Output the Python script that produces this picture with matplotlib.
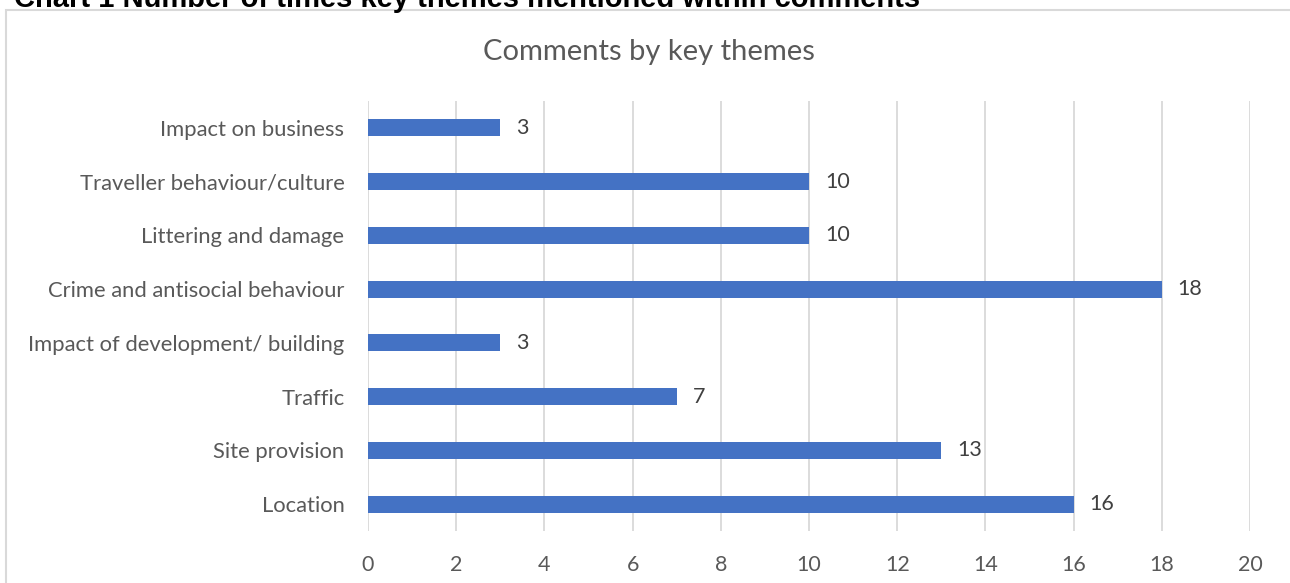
import matplotlib
matplotlib.use("Agg")
import matplotlib.pyplot as plt
from matplotlib.patches import Rectangle

categories = ["Location", "Site provision", "Traffic", "Impact of development/ building",
              "Crime and antisocial behaviour", "Littering and damage",
              "Traveller behaviour/culture", "Impact on business"]
values = [16, 13, 7, 3, 18, 10, 10, 3]
xticks = [0, 2, 4, 6, 8, 10, 12, 14, 16, 18, 20]

W, H = 1290, 583
fig = plt.figure(figsize=(W / 100, H / 100), dpi=100)
fig.patch.set_facecolor("white")

# outer chart border
fig.add_artist(Rectangle((6 / W, -0.01), 1.0, 1 - 10 / H + 0.01, transform=fig.transFigure,
                         fill=False, edgecolor="#d9d9d9", linewidth=1.5))

# cropped document caption
fig.text(14 / W, 1 - 7 / H, "Chart 1 Number of times key themes mentioned within comments",
         fontsize=21, fontweight="bold", family="Liberation Sans", color="black",
         va="baseline", ha="left")

left, right = 368 / W, 1250 / W
top, bottom = 1 - 101 / H, 1 - 531 / H
ax = fig.add_axes([left, bottom, right - left, top - bottom])

font = "Lato"
gray = "#595959"
y = list(range(len(categories)))
ax.barh(y, values, height=0.32, color="#4472c4", zorder=3)
for yi, v in zip(y, values):
    ax.text(v + 0.36, yi, str(v), va="center", ha="left", fontsize=15.5, family=font, color="#404040")

ax.set_xlim(0, 20)
ax.set_ylim(-0.5, len(categories) - 0.5)
ax.set_xticks(xticks)
ax.set_xticklabels([str(t) for t in xticks], fontsize=15.5, family=font, color=gray)
ax.set_yticks(y)
ax.set_yticklabels(categories, fontsize=15.8, family=font, color=gray)
ax.tick_params(axis="both", length=0)
ax.tick_params(axis="x", pad=17)
ax.tick_params(axis="y", pad=17)
ax.grid(axis="x", color="#d9d9d9", linewidth=1.3, zorder=0)
for s in ax.spines.values():
    s.set_visible(False)

fig.text(649 / W, 1 - 52 / H, "Comments by key themes", fontsize=21, family=font,
         color=gray, ha="center", va="center")

fig.savefig("out.png", dpi=100)
